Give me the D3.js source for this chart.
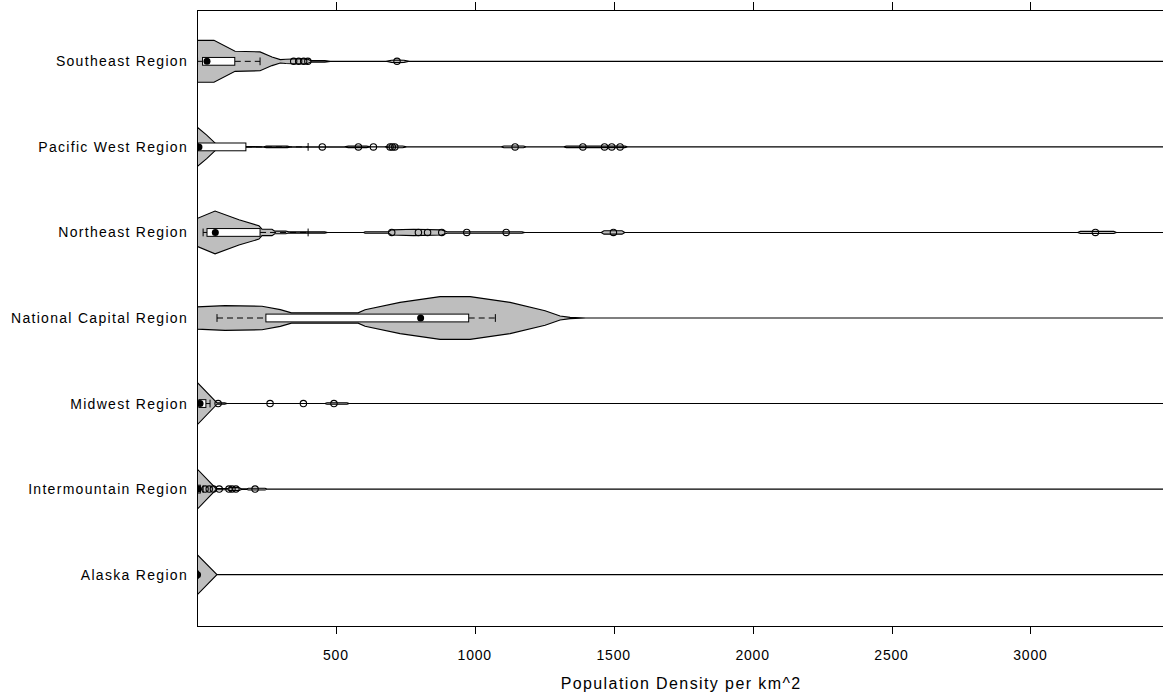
<!DOCTYPE html>
<html>
<head>
<meta charset="utf-8">
<script src="https://cdn.jsdelivr.net/npm/d3@7"></script>
<style>
  html, body { margin: 0; padding: 0; background: #fff; }
  svg { display: block; }
  text { font-family: "Liberation Sans", Arial, Helvetica, sans-serif; fill: #000; }
</style>
</head>
<body>
<svg id="chart" width="1163" height="698"></svg>
<script>
// ---------------- data ----------------
const regions = ["Alaska Region", "Intermountain Region", "Midwest Region",
  "National Capital Region", "Northeast Region", "Pacific West Region", "Southeast Region"];

const xTicks = [500, 1000, 1500, 2000, 2500, 3000];
const xTitle = "Population Density per km^2";

// box stats: [lower whisker, Q1, median, Q3, upper whisker]
const boxAlaska          = [0, 1, 2, 3, 5];
const boxIntermountain   = [0, 2, 4, 12, 22];
const boxMidwest         = [0, 7, 11, 32, 47];
const boxNationalCapital = [72, 248, 805, 978, 1074];
const boxNortheast       = [22, 36, 66, 227, 400];
const boxPacificWest     = [0, 4, 7, 176, 400];
const boxSoutheast       = [2, 20, 36, 136, 227];

// outliers
const outAlaska          = [];
const outIntermountain   = [29, 44, 59, 80, 115, 126, 140, 209];
const outMidwest         = [76, 263, 383, 493];
const outNationalCapital = [];
const outNortheast       = [701, 797, 830, 881, 971, 1113, 1499, 3234];
const outPacificWest     = [451, 581, 635, 695, 703, 712, 1145, 1389, 1467, 1493, 1523];
const outSoutheast       = [348, 366, 384, 399, 720];

// violin density profiles: [value, relative density (max = 1)]
const violinAlaska = [[0,0.95],[72,0],[3500,0]];
const violinIntermountain = [[0,0.95],[68,0.03],[110,0.03],[118,0.07],[150,0.07],[160,0.02],
  [180,0.02],[185,0.04],[245,0.04],[252,0],[3500,0]];
const violinMidwest = [[0,1.0],[72,0.03],[100,0.03],[108,0],[460,0],[468,0.035],[540,0.035],[548,0],[3500,0]];
const violinNationalCapital = [[0,0.52],[101,0.58],[234,0.55],[300,0.39],[340,0.24],[580,0.24],
  [605,0.39],[731,0.73],[875,1],[983,1],[1127,0.73],[1253,0.34],[1307,0.09],[1343,0.03],[1400,0],[3500,0]];
const violinNortheast = [[0,0.65],[65,1.0],[151,0.59],[223,0.31],[234,0.15],[270,0.15],[280,0.06],
  [320,0.06],[330,0.03],[460,0.03],[470,0],[600,0],[605,0.035],[690,0.035],[700,0.12],[780,0.15],
  [880,0.12],[900,0.035],[1170,0.035],[1180,0],[1455,0],[1465,0.08],[1530,0.08],[1540,0],
  [3170,0],[3180,0.05],[3300,0.05],[3310,0],[3500,0]];
const violinPacificWest = [[0,0.93],[35,0.55],[70,0.12],[90,0.02],[240,0.01],[250,0.035],[325,0.035],
  [335,0.01],[530,0],[545,0.035],[610,0.035],[625,0],[675,0],[690,0.04],[740,0.04],[755,0],
  [1095,0],[1105,0.04],[1175,0.04],[1185,0],[1320,0],[1330,0.035],[1540,0.035],[1550,0],[3500,0]];
const violinSoutheast = [[0,0.98],[61,0.98],[137,0.47],[227,0.44],[270,0.2],[300,0.08],[320,0.1],
  [345,0.11],[396,0.11],[410,0.035],[460,0.035],[480,0],[680,0],[700,0.05],[720,0.06],[745,0.05],
  [765,0],[3500,0]];

const groups = [
  {name: regions[0], box: boxAlaska,          out: outAlaska,          violin: violinAlaska},
  {name: regions[1], box: boxIntermountain,   out: outIntermountain,   violin: violinIntermountain},
  {name: regions[2], box: boxMidwest,         out: outMidwest,         violin: violinMidwest},
  {name: regions[3], box: boxNationalCapital, out: outNationalCapital, violin: violinNationalCapital},
  {name: regions[4], box: boxNortheast,       out: outNortheast,       violin: violinNortheast},
  {name: regions[5], box: boxPacificWest,     out: outPacificWest,     violin: violinPacificWest},
  {name: regions[6], box: boxSoutheast,       out: outSoutheast,       violin: violinSoutheast}
];

// ---------------- layout ----------------
const panel = {left: 197, top: 10, right: 1169.3, bottom: 626};
const svg = d3.select("#chart");

const x = d3.scaleLinear().domain([0, 3500]).range([panel.left, panel.right]);
const y = d3.scaleLinear().domain([0.4, regions.length + 0.6]).range([panel.bottom, panel.top]);
const violinHalf = y(0) - y(0.25);   // half of box.width 0.5
const boxHalf = y(0) - y(0.0455);    // thin box

svg.append("defs").append("clipPath").attr("id", "clip")
  .append("rect").attr("x", panel.left).attr("y", panel.top)
  .attr("width", panel.right - panel.left).attr("height", panel.bottom - panel.top);

const g = svg.append("g").attr("clip-path", "url(#clip)");

groups.forEach((grp, i) => {
  const yc = y(i + 1);
  const area = d3.area()
    .x(d => x(d[0]))
    .y0(d => yc + d[1] * violinHalf)
    .y1(d => yc - d[1] * violinHalf)
    .curve(d3.curveLinear);
  // violin
  g.append("path").datum(grp.violin)
    .attr("d", area)
    .attr("fill", "#bebebe")
    .attr("stroke", "#000")
    .attr("stroke-width", 1.1)
    .attr("stroke-linejoin", "miter");

  const [lw, q1, med, q3, uw] = grp.box;
  // whiskers (dashed)
  g.append("line").attr("x1", x(lw)).attr("x2", x(q1)).attr("y1", yc).attr("y2", yc)
    .attr("stroke", "#000").attr("stroke-dasharray", "6,4");
  g.append("line").attr("x1", x(q3)).attr("x2", x(uw)).attr("y1", yc).attr("y2", yc)
    .attr("stroke", "#000").attr("stroke-dasharray", "6,4");
  // whisker caps
  [lw, uw].forEach(v => {
    g.append("line").attr("x1", x(v)).attr("x2", x(v))
      .attr("y1", yc - boxHalf).attr("y2", yc + boxHalf)
      .attr("stroke", "#000");
  });
  // box
  g.append("rect").attr("x", x(q1)).attr("y", yc - boxHalf)
    .attr("width", Math.max(x(q3) - x(q1), 0.5)).attr("height", 2 * boxHalf)
    .attr("fill", "#fff").attr("stroke", "#000");
  // median dot
  g.append("circle").attr("cx", x(med)).attr("cy", yc).attr("r", 3.5).attr("fill", "#000");
  // outliers
  g.selectAll(null).data(grp.out).enter().append("circle")
    .attr("cx", d => x(d)).attr("cy", yc).attr("r", 3.2)
    .attr("fill", "none").attr("stroke", "#000").attr("stroke-width", 1.1);
});

// panel border
svg.append("rect")
  .attr("x", panel.left + 0.5).attr("y", panel.top + 0.5)
  .attr("width", panel.right - panel.left).attr("height", panel.bottom - panel.top)
  .attr("fill", "none").attr("stroke", "#000");

// x ticks bottom and top
xTicks.forEach(t => {
  const xx = Math.round(x(t)) + 0.5;
  svg.append("line").attr("x1", xx).attr("x2", xx).attr("y1", panel.bottom).attr("y2", panel.bottom + 8)
    .attr("stroke", "#000");
  svg.append("line").attr("x1", xx).attr("x2", xx).attr("y1", panel.top).attr("y2", panel.top - 8)
    .attr("stroke", "#000");
  svg.append("text").attr("x", x(t)).attr("y", 660)
    .attr("text-anchor", "middle").attr("font-size", 14).attr("letter-spacing", 0.8)
    .text(t);
});

// y labels
groups.forEach((grp, i) => {
  svg.append("text").attr("x", 188).attr("y", y(i + 1))
    .attr("text-anchor", "end").attr("dominant-baseline", "central")
    .attr("font-size", 14).attr("letter-spacing", 1.3)
    .text(grp.name);
});

// x title
svg.append("text").attr("x", (panel.left + panel.right) / 2 - 2).attr("y", 689)
  .attr("text-anchor", "middle").attr("font-size", 16).attr("letter-spacing", 1.4)
  .text(xTitle);
</script>
</body>
</html>
